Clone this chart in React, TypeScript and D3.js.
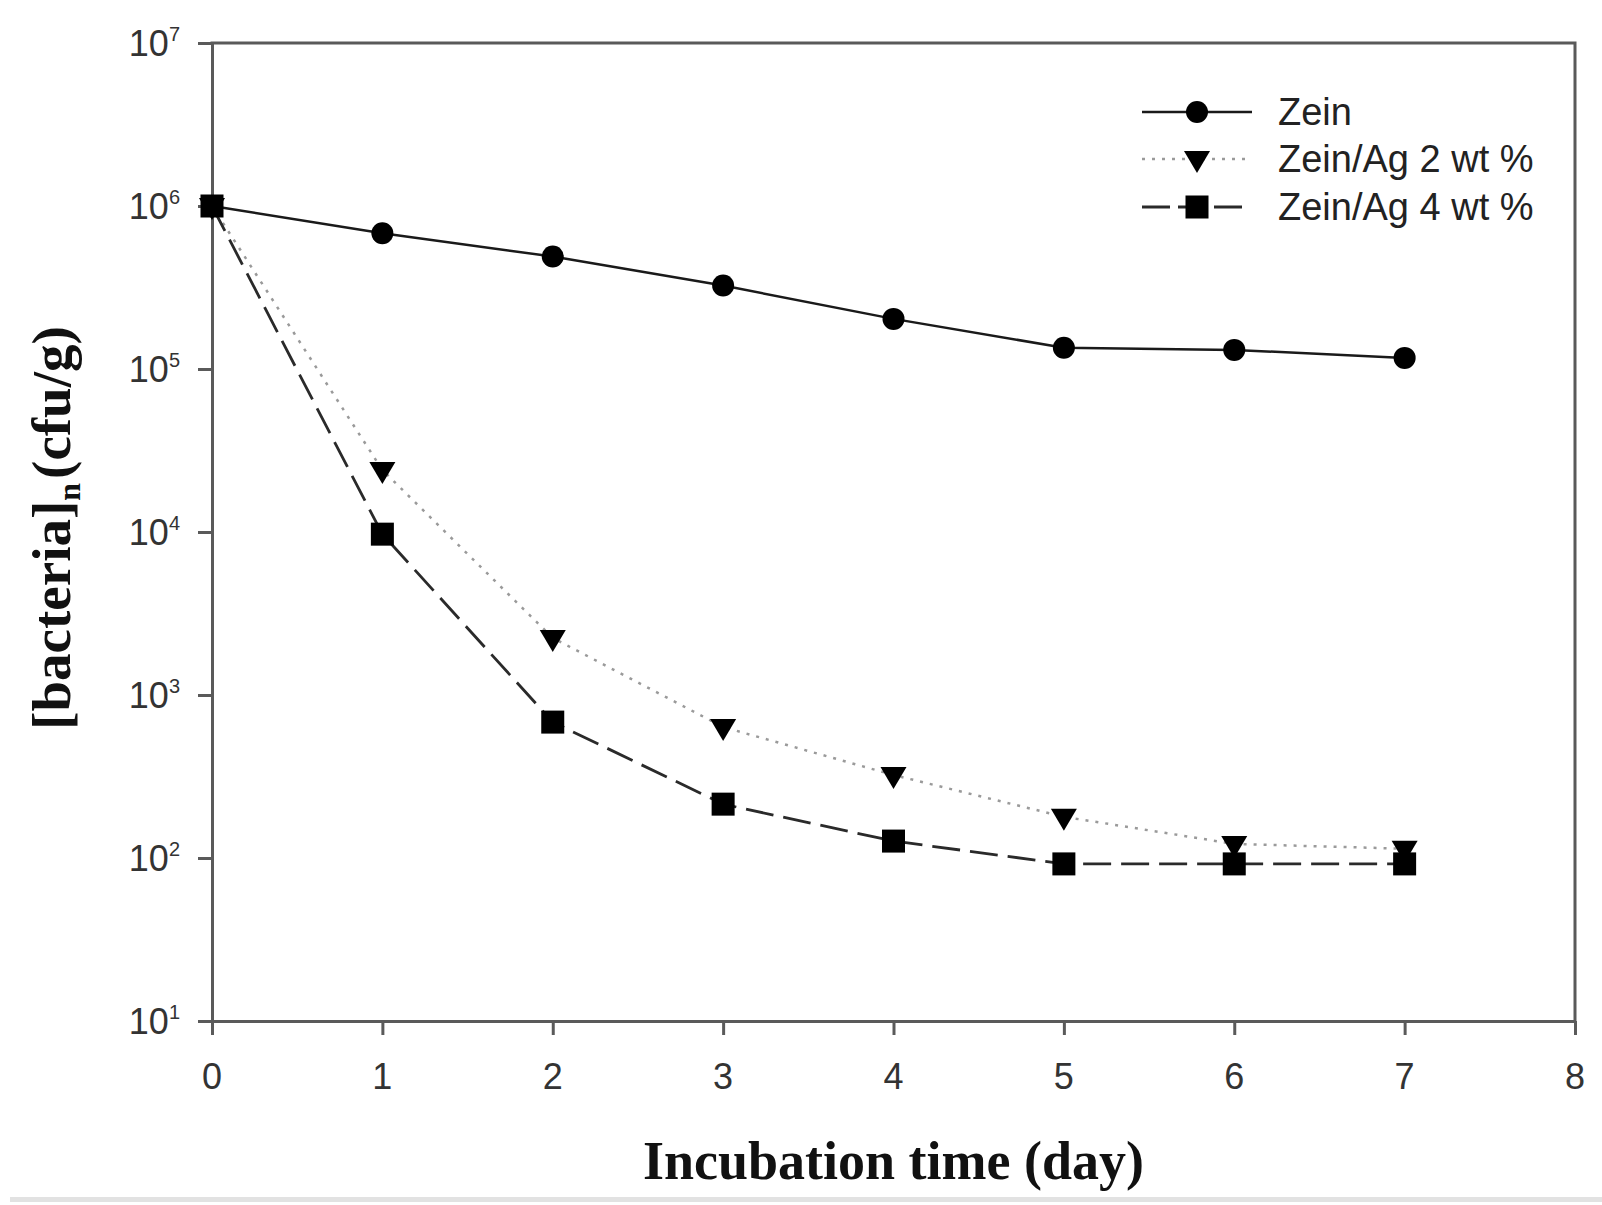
import { useRef, useEffect } from "react";
import * as d3 from "d3";

// Incubation days and bacteria counts (cfu/g)
const days = [0, 1, 2, 3, 4, 5, 6, 7];
const zein = [1.0e6, 6.8e5, 4.9e5, 3.25e5, 2.03e5, 1.35e5, 1.31e5, 1.17e5];
const zeinAg2 = [1.0e6, 2.4e4, 2.24e3, 636, 323, 179, 122, 114];
const zeinAg4 = [1.0e6, 9.7e3, 682, 214, 127, 92, 92, 92];

const seriesLabels = ["Zein", "Zein/Ag 2 wt %", "Zein/Ag 4 wt %"];
const xTicks = [0, 1, 2, 3, 4, 5, 6, 7, 8];
const yExponents = [1, 2, 3, 4, 5, 6, 7];

type Marker = "circle" | "triangle" | "square";

interface Series {
  label: string;
  values: number[];
  marker: Marker;
  stroke: string;
  dash: string | null;
  width: number;
}

const SANS = "'Liberation Sans', Arial, sans-serif";
const SERIF = "'Liberation Serif', 'Times New Roman', serif";

export default function App() {
  const svgRef = useRef<SVGSVGElement>(null);

  useEffect(() => {
    if (!svgRef.current) return;
    const svg = d3.select(svgRef.current);
    svg.selectAll("*").remove();

    const x = d3.scaleLinear().domain([0, 8]).range([212, 1575]);
    const y = d3.scaleLog().domain([10, 1e7]).range([1021, 43]);
    const axisColor = "#5a5a5a";

    const series: Series[] = [
      { label: seriesLabels[0], values: zein, marker: "circle", stroke: "#1a1a1a", dash: null, width: 2.5 },
      { label: seriesLabels[1], values: zeinAg2, marker: "triangle", stroke: "#9a9a9a", dash: "3 7", width: 2.5 },
      { label: seriesLabels[2], values: zeinAg4, marker: "square", stroke: "#2a2a2a", dash: "28 10", width: 2.8 },
    ];

    // bottom strip (page edge)
    svg.append("rect").attr("x", 10).attr("y", 1197).attr("width", 1592).attr("height", 5).attr("fill", "#e2e2e2");

    // frame: top and right
    svg.append("path")
      .attr("d", `M${x(0)},${y(1e7)}H${x(8)}V${y(10)}`)
      .attr("fill", "none").attr("stroke", axisColor).attr("stroke-width", 3).attr("stroke-linecap", "square");

    // Y axis
    svg.append("g")
      .attr("transform", `translate(${x(0)},0)`)
      .call(d3.axisLeft(y).tickValues(yExponents.map(e => Math.pow(10, e))).tickSize(14).tickSizeOuter(0).tickFormat(() => ""))
      .call(el => {
        el.select(".domain").attr("stroke", axisColor).attr("stroke-width", 3);
        el.selectAll("line").attr("stroke", axisColor).attr("stroke-width", 3);
      });

    // X axis
    svg.append("g")
      .attr("transform", `translate(0,${y(10)})`)
      .call(d3.axisBottom(x).tickValues(xTicks).tickSize(14).tickSizeOuter(0).tickFormat(() => ""))
      .call(el => {
        el.select(".domain").attr("stroke", axisColor).attr("stroke-width", 3);
        el.selectAll("line").attr("stroke", axisColor).attr("stroke-width", 3);
      });

    // Y tick labels (10^n)
    yExponents.forEach(e => {
      const t = svg.append("text")
        .attr("x", 180).attr("y", y(Math.pow(10, e)) + 13)
        .attr("text-anchor", "end").attr("font-family", SANS).attr("font-size", 36).attr("fill", "#333");
      t.append("tspan").text("10");
      t.append("tspan").attr("font-size", 20).attr("dy", -15).text(String(e));
    });

    // X tick labels
    xTicks.forEach(d => {
      svg.append("text")
        .attr("x", x(d)).attr("y", 1089)
        .attr("text-anchor", "middle").attr("font-family", SANS).attr("font-size", 36).attr("fill", "#333")
        .text(String(d));
    });

    // Axis titles
    svg.append("text")
      .attr("x", (x(0) + x(8)) / 2).attr("y", 1179)
      .attr("text-anchor", "middle").attr("font-family", SERIF).attr("font-weight", "bold").attr("font-size", 54).attr("fill", "#111")
      .text("Incubation time (day)");

    const yt = svg.append("text")
      .attr("transform", `translate(70,${(y(10) + y(1e7)) / 2 - 4}) rotate(-90)`)
      .attr("text-anchor", "middle").attr("font-family", SERIF).attr("font-weight", "bold").attr("font-size", 55).attr("fill", "#111");
    yt.append("tspan").text("[bacteria]");
    yt.append("tspan").attr("font-size", 32).attr("dy", 10).text("n");
    yt.append("tspan").attr("dy", -10).attr("dx", 4).text("(cfu/g)");

    const drawMarker = (g: d3.Selection<SVGGElement, unknown, null, undefined>, m: Marker, cx: number, cy: number) => {
      if (m === "circle") {
        g.append("circle").attr("cx", cx).attr("cy", cy).attr("r", 11).attr("fill", "#000");
      } else if (m === "square") {
        g.append("rect").attr("x", cx - 11.5).attr("y", cy - 11.5).attr("width", 23).attr("height", 23).attr("fill", "#000");
      } else {
        g.append("path").attr("d", `M${cx - 13},${cy - 8}L${cx + 13},${cy - 8}L${cx},${cy + 14}Z`).attr("fill", "#000");
      }
    };

    // Series lines
    const line = d3.line<number>().x((_, i) => x(days[i])).y(v => y(v));
    series.forEach(s => {
      svg.append("path").datum(s.values)
        .attr("fill", "none").attr("stroke", s.stroke).attr("stroke-width", s.width)
        .attr("stroke-dasharray", s.dash ?? null)
        .attr("d", line);
    });

    // Markers (drawn after lines)
    series.forEach(s => {
      const g = svg.append("g");
      s.values.forEach((v, i) => drawMarker(g, s.marker, x(days[i]), y(v)));
    });

    // Legend
    const legendRows = [112, 159, 207];
    series.forEach((s, i) => {
      const g = svg.append("g");
      const ly = legendRows[i];
      g.append("line").attr("x1", 1142).attr("x2", i === 2 ? 1246 : 1252).attr("y1", ly).attr("y2", ly)
        .attr("stroke", s.stroke).attr("stroke-width", s.width)
        .attr("stroke-dasharray", s.dash ? (i === 2 ? "28 8" : s.dash) : null);
      drawMarker(g, s.marker, 1197, ly);
      g.append("text").attr("x", 1278).attr("y", ly + 13)
        .attr("font-family", SANS).attr("font-size", 38).attr("fill", "#222")
        .text(s.label);
    });
  }, []);

  return (
    <div style={{ position: "absolute", left: 0, top: 0, width: 1602, height: 1205, background: "#fff" }}>
      <svg ref={svgRef} width={1602} height={1205} style={{ display: "block" }} />
    </div>
  );
}
